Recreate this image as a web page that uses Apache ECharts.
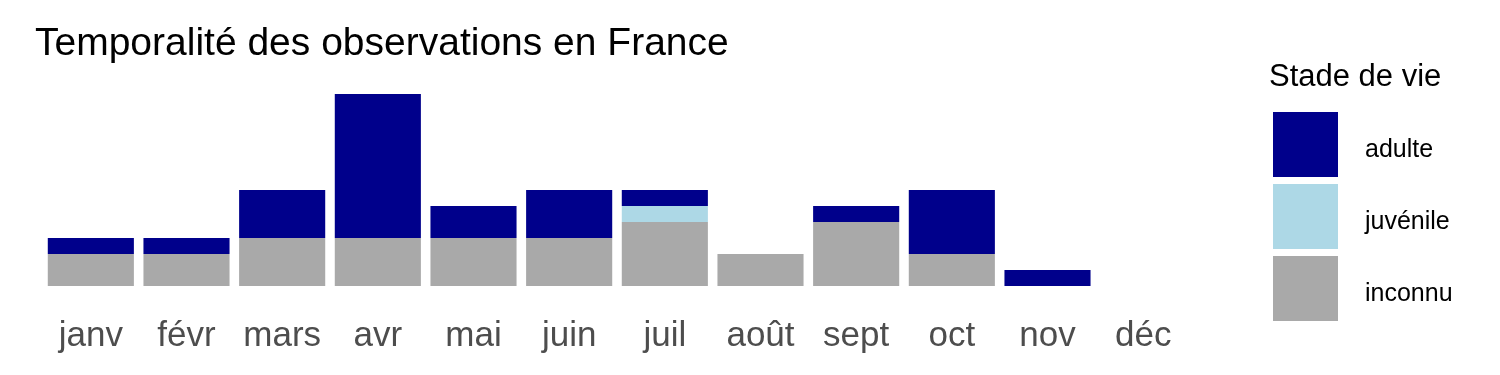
<!DOCTYPE html>
<html>
<head>
<meta charset="utf-8">
<script src="https://cdn.jsdelivr.net/npm/echarts@6/dist/echarts.min.js"></script>
<style>
html,body{margin:0;padding:0;background:#fff;}
#chart{width:1500px;height:375px;}
</style>
</head>
<body>
<div id="chart"></div>
<script>
const months = ['janv','févr','mars','avr','mai','juin','juil','août','sept','oct','nov','déc'];
const inconnu = [2,2,3,3,3,3,4,2,4,2,0,0];
const juvenile = [0,0,0,0,0,0,1,0,0,0,0,0];
const adulte = [1,1,3,9,2,3,1,0,1,4,1,0];
const FONT = '"Liberation Sans", Arial, sans-serif';

const chart = echarts.init(document.getElementById('chart'), null, {renderer:'canvas'});
chart.setOption({
  animation:false,
  backgroundColor:'#ffffff',
  title:[
    {text:'Temporalité des observations en France', left:30, top:20,
     textStyle:{fontFamily:FONT, fontSize:39, fontWeight:'normal', color:'#000'}},
    {text:'Stade de vie', left:1264, top:57,
     textStyle:{fontFamily:FONT, fontSize:31, fontWeight:'normal', color:'#000'}}
  ],
  grid:{left:43, right:309, top:94, bottom:89, containLabel:false},
  xAxis:{type:'category', data:months,
    axisLine:{show:false}, axisTick:{show:false}, splitLine:{show:false},
    axisLabel:{interval:0, fontFamily:FONT, fontSize:35, color:'#4d4d4d', margin:33}},
  yAxis:{type:'value', min:0, max:12, show:false, splitLine:{show:false}},
  legend:{orient:'vertical', left:1268, top:107, itemWidth:65, itemHeight:65, itemGap:7,
    icon:'rect', data:['adulte','juvénile','inconnu'],
    formatter:'{a|{name}}',
    textStyle:{fontFamily:FONT, fontSize:25, color:'#000',
      rich:{a:{fontFamily:FONT, fontSize:25, color:'#000', padding:[12,0,0,22]}}}},
  series:[
    {name:'inconnu', type:'bar', stack:'s', data:inconnu, barCategoryGap:'10%', itemStyle:{color:'#A9A9A9'}},
    {name:'juvénile', type:'bar', stack:'s', data:juvenile, barCategoryGap:'10%', itemStyle:{color:'#ADD8E6'}},
    {name:'adulte', type:'bar', stack:'s', data:adulte, barCategoryGap:'10%', itemStyle:{color:'#00008B'}}
  ]
});
</script>
</body>
</html>
